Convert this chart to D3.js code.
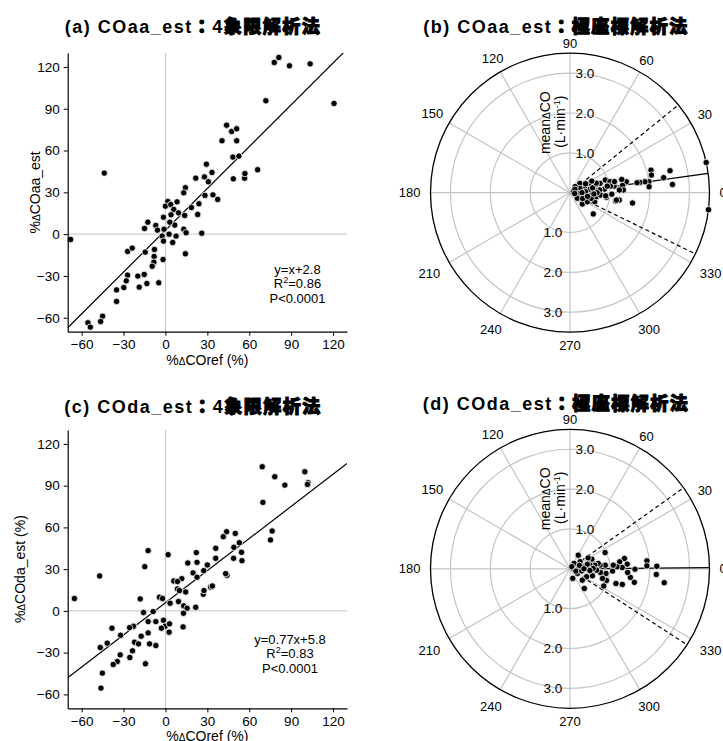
<!DOCTYPE html>
<html><head><meta charset="utf-8">
<script src="https://cdn.jsdelivr.net/npm/d3@7/dist/d3.min.js"></script>
<style>
body{margin:0;background:#fff}
text{font-family:"Liberation Sans",Arial,sans-serif;fill:#000}
</style>
</head><body>
<svg id="chart" width="723" height="741"></svg>
<script>
// ---------- data ----------
const axisTicks = [-60, -30, 0, 30, 60, 90, 120];
const radialTicks = [1, 2, 3];
const angleTicks = [0, 30, 60, 90, 120, 150, 180, 210, 240, 270, 300, 330];

// (a) 4-quadrant, COaa_est  (%ΔCOref, %ΔCOaa_est)
const aRef = [77.9,81.2,88.8,103.6,71.9,120.7,-43.8,-67.9,43.8,47.4,51,40.5,51,48.3,52.6,29.3,33.3,27.9,21.7,30.7,48.6,56.7,56.9,66,14.3,13.1,28.3,34,37.4,1.7,0,3.8,8.3,6,9.3,4,-1.4,6.7,3.1,18.6,24,23.1,13.8,13.1,14.8,26,14.3,-15,-12.6,-6.9,-5.7,-1,2.6,7.6,5.2,-2.4,-1.4,-1.7,-14.5,-7.9,-8.1,-8.3,-9.5,-27.1,-23.8,-27.1,-28.1,-29.8,-35,-35,-19.8,-15.2,-18.8,-13.3,-4.8,-45,-46.4,-55.5,-53.8];
const aEst = [123.2,126.8,120.8,122.2,95.7,93.8,43.8,-3.8,78.2,73.7,75.6,67,67,55.3,56,50.2,44.3,41.1,40.2,37.6,39.7,40.2,43.5,46.2,33.3,29.7,27.8,28.2,24.9,23.4,20.1,21.3,23.2,17.7,15.3,13.9,12.2,6.5,8.6,19.1,21.8,14.1,13.4,3.6,1,0.7,-14.1,4.1,8.6,6.2,2.9,3.6,0,-1.4,-6,-1.4,-5,-18.2,-12.9,-11,-16,-20.1,-23,-12.4,-10,-29.4,-33.5,-38.3,-40,-48.3,-30.1,-28.9,-38,-35.4,-34.9,-58.9,-62.7,-63.6,-66.7];
const aFit = {slope: 1.0, intercept: 2.8};
const aStats = ["y=x+2.8", "0.86", "P<0.0001"];

// (c) 4-quadrant, COda_est
const cRef = [69.3,99.8,78.3,85.5,102.1,101.7,69.8,76.4,75.2,43.8,41.4,50,52.9,49,54.5,54.8,48.8,36,36,22.1,22.6,16,30,27.4,19.8,22.6,44,43.1,11.7,6,8.6,1.9,-12.4,-14.8,-47.1,-65.2,-18.1,-4.3,-2.1,3.3,8.6,10,14.5,9.3,13.1,15.5,12.9,21.7,27.1,27.6,32.4,33.6,-15.7,-8.8,-1.4,-0.2,-2.9,2.9,2.6,12.6,-12.4,-6.9,-22.9,-25.7,-38.3,-12.4,-17.4,-32.1,-41.7,-46.7,-22.1,-19.3,-11.4,-6.9,-23.6,-32.4,-25.5,-34.5,-37.4,-14.3,-45.2,-46.2];
const cEst = [103.6,100,96.4,90.4,92.1,90.9,78,57.4,51,56.9,53.3,55.7,49,45.7,42.1,36.1,37.8,45,37.8,41.9,34.9,34.4,33,28.9,27.3,24.2,25.6,26.8,23.2,21.5,21.1,40.4,43.3,31.8,25.1,8.9,8.6,9.8,8.9,5.5,15.8,14.6,13.6,6.7,3.6,1.9,-1.7,2.6,12,14.6,17.2,17.9,-1.2,-0.5,-6.7,-11,-12.4,-9.3,-15.3,-11.5,-7.7,-7.7,-11,-12,-12.4,-15.8,-18.2,-17.5,-23.2,-26.3,-22.5,-23.7,-23.7,-24.9,-28.7,-31.6,-33.5,-36.4,-38.5,-38,-44.7,-55.5];
const cFit = {slope: 0.77, intercept: 5.8};
const cStats = ["y=0.77x+5.8", "0.83", "P<0.0001"];

// (b) polar, COaa_est  (angle in degrees, mean ΔCO in L/min)
const bAngle = [12.5,-7,12.4,9.1,4.6,15.6,12.2,7.9,8.3,8.4,8.4,4.3,-9.4,11,14.4,7.9,2.9,-8.5,-10.3,8.6,19.7,17.3,6,5.1,-7.3,17.8,6.2,-20,-42.4,25.8,9.5,-6.1,24,3.7,-17.3,-42.6,43,23.4,-4.2,-31,50,16.7,-8.5,-4.4,15.4,9.3,-27.4,3.1,-37,-5,-9,30,0,-15,12,-25,35,-10,20,0,-12,28,10,-2,14,-3];
const bRadius = [3.5,3.5,2.57,2.38,2.58,2.11,2.09,2.0,1.9,1.77,1.70,1.99,1.59,1.44,1.34,1.33,1.34,1.25,1.16,1.12,0.94,0.79,0.87,0.75,0.92,0.68,0.62,0.66,0.79,0.54,0.51,0.54,0.41,0.39,0.39,0.42,0.34,0.27,0.23,0.27,0.2,0.09,0.67,0.77,1.04,1.03,0.49,1.24,0.23,0.9,1.18,0.45,0.3,0.55,0.58,0.35,0.15,0.12,0.7,0.68,0.45,0.62,0.95,1.05,1.15,0.6];
const bMean = 8, bLimits = [39, -26];

// (d) polar, COda_est
const dAngle = [-8.4,1.7,-3.7,5.9,2.2,-0.3,-11.9,-8.1,-3.6,10.7,4.7,8,1.5,2.4,-3.1,-16.6,-17.7,24.8,5.9,-7.4,-17.7,-27,-16.5,7,-6.8,10.7,8.3,23.7,-17.2,10.4,31,1.1,-25.6,-53.9,-42.6,9,58.6,35,2.3,-32.5,53,-74,50,-21,-2.9,0.8,4.8,-10,15,-5,20,0];
const dRadius = [2.39,2.18,2.17,1.94,1.93,1.63,1.65,1.53,1.45,1.39,1.44,1.26,1.31,1.18,1.07,1.37,1.21,0.97,0.89,0.91,0.96,0.95,0.85,0.76,0.77,0.72,0.63,0.6,0.59,0.51,0.53,0.42,0.46,0.61,0.42,0.32,0.4,0.31,0.21,0.22,0.17,0.25,0.07,0.16,0.67,0.58,1.09,0.3,0.45,0.5,0.25,0.35];
const dMean = 0.5, dLimits = [35.5, -33];

// ---------- drawing ----------
const svg = d3.select("#chart");
const grey = "#c4c4c4";

function cjkSpan(t, s) {
  t.append("tspan").style("font-family", "'Noto Sans CJK JP'").style("font-weight", 900)
    .attr("stroke", "#000").attr("stroke-width", 1.1).attr("stroke-linejoin", "round").text(s);
}
function title(x, y, pre, num, cjk) {
  const t = svg.append("text").attr("x", x).attr("y", y).attr("text-anchor", "middle")
    .style("font-size", "18px").style("letter-spacing", "1.5px");
  t.append("tspan").style("font-weight", "bold").text(pre);
  cjkSpan(t, "：");
  if (num) t.append("tspan").style("font-weight", "bold").text(num);
  cjkSpan(t, cjk);
}

function deltaLabel(sel, before, after) {
  sel.append("tspan").text(before);
  sel.append("tspan").style("font-size", "0.72em").text("Δ");
  sel.append("tspan").text(after);
}

let clipId = 0;
function scatter(box, ref, est, fit, stats, yTitle, yTitleX, statsX, statsY) {
  const x = d3.scaleLinear().domain([-70, 130]).range([box.x0, box.x1]);
  const y = d3.scaleLinear().domain([-70, 130]).range([box.y1, box.y0]);
  const g = svg.append("g");
  const id = "clip" + (clipId++);
  g.append("clipPath").attr("id", id).append("rect")
    .attr("x", box.x0).attr("y", box.y0).attr("width", box.x1 - box.x0).attr("height", box.y1 - box.y0);
  // zero reference lines
  g.append("line").attr("x1", x(0)).attr("x2", x(0)).attr("y1", box.y0).attr("y2", box.y1)
    .attr("stroke", grey).attr("stroke-width", 1);
  g.append("line").attr("x1", box.x0).attr("x2", box.x1).attr("y1", y(0)).attr("y2", y(0))
    .attr("stroke", grey).attr("stroke-width", 1);
  // regression line
  const xs = [-70, 130];
  g.append("line").attr("clip-path", `url(#${id})`)
    .attr("x1", x(xs[0])).attr("y1", y(fit.slope * xs[0] + fit.intercept))
    .attr("x2", x(xs[1])).attr("y2", y(fit.slope * xs[1] + fit.intercept))
    .attr("stroke", "#000").attr("stroke-width", 1.2);
  // points
  g.selectAll("circle.pt").data(ref.map((r, i) => [r, est[i]])).join("circle")
    .attr("class", "pt").attr("cx", d => x(d[0])).attr("cy", d => y(d[1])).attr("r", 3.2)
    .attr("fill", "#000").attr("stroke", "#fff").attr("stroke-width", 0.8);
  // axes
  const ax = g.append("g").attr("transform", `translate(0,${box.y1})`)
    .call(d3.axisBottom(x).tickValues(axisTicks).tickSize(4).tickSizeOuter(0).tickPadding(4));
  const ay = g.append("g").attr("transform", `translate(${box.x0},0)`)
    .call(d3.axisLeft(y).tickValues(axisTicks).tickSize(4).tickSizeOuter(0).tickPadding(4));
  [ax, ay].forEach(a => {
    a.selectAll("text").style("font-size", "13.5px").style("font-family", "'Liberation Sans',Arial,sans-serif").attr("fill", "#1a1a1a");
    a.select(".domain").attr("stroke", "#000").attr("stroke-width", 1.2);
    a.selectAll(".tick line").attr("stroke", "#000");
  });
  // axis titles
  const xt = svg.append("text").attr("x", (box.x0 + box.x1) / 2).attr("y", box.y1 + 33)
    .attr("text-anchor", "middle").style("font-size", "14px");
  deltaLabel(xt, "%", "COref (%)");
  const yt = svg.append("text").attr("transform", `translate(${yTitleX},${(box.y0 + box.y1) / 2}) rotate(-90)`)
    .attr("text-anchor", "middle").attr("dy", "0.35em").style("font-size", "14px");
  deltaLabel(yt, "%", yTitle);
  // statistics
  const st = svg.append("g").style("font-size", "13px");
  st.append("text").attr("x", statsX).attr("y", statsY).attr("dy", "0.35em").attr("text-anchor", "middle").text(stats[0]);
  const r2 = st.append("text").attr("x", statsX).attr("y", statsY + 14.6).attr("dy", "0.35em").attr("text-anchor", "middle");
  r2.append("tspan").text("R");
  r2.append("tspan").attr("dy", -5).style("font-size", "9px").text("2");
  r2.append("tspan").attr("dy", 5).text("=" + stats[1]);
  st.append("text").attr("x", statsX).attr("y", statsY + 29.2).attr("dy", "0.35em").attr("text-anchor", "middle").text(stats[2]);
}

function polar(cx, cy, ang, rad, mean, limits) {
  const r = d3.scaleLinear().domain([0, 3.5]).range([0, 139.5]);
  const toRad = a => a * Math.PI / 180;
  const px = (a, v) => cx + r(v) * Math.cos(toRad(a));
  const py = (a, v) => cy - r(v) * Math.sin(toRad(a));
  const g = svg.append("g");
  // grid circles
  g.selectAll("circle.grid").data(radialTicks).join("circle").attr("class", "grid")
    .attr("cx", cx).attr("cy", cy).attr("r", d => r(d))
    .attr("fill", "none").attr("stroke", grey).attr("stroke-width", 1.2);
  // spokes
  g.selectAll("line.spoke").data(angleTicks).join("line").attr("class", "spoke")
    .attr("x1", cx).attr("y1", cy).attr("x2", d => px(d, 3.5)).attr("y2", d => py(d, 3.5))
    .attr("stroke", grey).attr("stroke-width", 1.2);
  // outer circle
  g.append("circle").attr("cx", cx).attr("cy", cy).attr("r", r(3.5))
    .attr("fill", "none").attr("stroke", "#000").attr("stroke-width", 1.3);
  // angle labels
  const labR = d => {
    const w = String(d).length * 7.2;
    return 149.5 + (w / 2) * Math.abs(Math.cos(toRad(d))) + (Math.sin(toRad(d)) < -0.1 ? 3.5 : 0);
  };
  g.selectAll("text.ang").data(angleTicks).join("text").attr("class", "ang")
    .attr("x", d => cx + labR(d) * Math.cos(toRad(d)))
    .attr("y", d => cy - labR(d) * Math.sin(toRad(d)))
    .attr("dy", "0.35em").attr("text-anchor", "middle").style("font-size", "13px").attr("fill", "#1a1a1a")
    .text(d => d);
  // radial labels
  radialTicks.forEach(v => {
    g.append("text").attr("x", cx + 15).attr("y", cy - r(v)).attr("dy", "0.35em")
      .attr("text-anchor", "middle").style("font-size", "13.5px").attr("fill", "#1a1a1a").text(d3.format(".1f")(v));
    g.append("text").attr("x", cx - 17).attr("y", cy + r(v)).attr("dy", "0.35em")
      .attr("text-anchor", "middle").style("font-size", "13.5px").attr("fill", "#1a1a1a").text(d3.format(".1f")(v));
  });
  // radial axis title
  const t1 = g.append("text").attr("transform", `translate(${cx - 25},${cy - 70}) rotate(-90)`)
    .attr("text-anchor", "middle").attr("dy", "0.35em").style("font-size", "14px");
  deltaLabel(t1, "mean", "CO");
  const t2 = g.append("text").attr("transform", `translate(${cx - 10},${cy - 71}) rotate(-90)`)
    .attr("text-anchor", "middle").attr("dy", "0.35em").style("font-size", "14px");
  t2.append("tspan").text("(L·min");
  t2.append("tspan").attr("dy", -5).style("font-size", "9px").text("-1");
  t2.append("tspan").attr("dy", 5).text(")");
  // limit lines
  limits.forEach(a => {
    g.append("line").attr("x1", cx).attr("y1", cy).attr("x2", px(a, 3.5)).attr("y2", py(a, 3.5))
      .attr("stroke", "#000").attr("stroke-width", 1.2).attr("stroke-dasharray", "4,3");
  });
  g.append("line").attr("x1", cx).attr("y1", cy).attr("x2", px(mean, 3.5)).attr("y2", py(mean, 3.5))
    .attr("stroke", "#000").attr("stroke-width", 1.2);
  // points
  g.selectAll("circle.pt").data(ang.map((a, i) => [a, rad[i]])).join("circle").attr("class", "pt")
    .attr("cx", d => px(d[0], d[1])).attr("cy", d => py(d[0], d[1])).attr("r", 3.2)
    .attr("fill", "#000").attr("stroke", "#fff").attr("stroke-width", 0.8);
}

title(193, 33, "(a) COaa_est", "4", "象限解析法");
title(556, 32.5, "(b) COaa_est", "", "極座標解析法");
title(193, 412.5, "(c) COda_est", "4", "象限解析法");
title(556, 409.5, "(d) COda_est", "", "極座標解析法");

scatter({x0: 67.7, x1: 347, y0: 53, y1: 331.7}, aRef, aEst, aFit, aStats, "COaa_est", 35, 297.5, 269.3);
scatter({x0: 67.7, x1: 347, y0: 430, y1: 708.3}, cRef, cEst, cFit, cStats, "COda_est (%)", 20, 290, 639.3);
polar(570, 192.7, bAngle, bRadius, bMean, bLimits);
polar(570, 568.8, dAngle, dRadius, dMean, dLimits);
</script>
</body></html>
